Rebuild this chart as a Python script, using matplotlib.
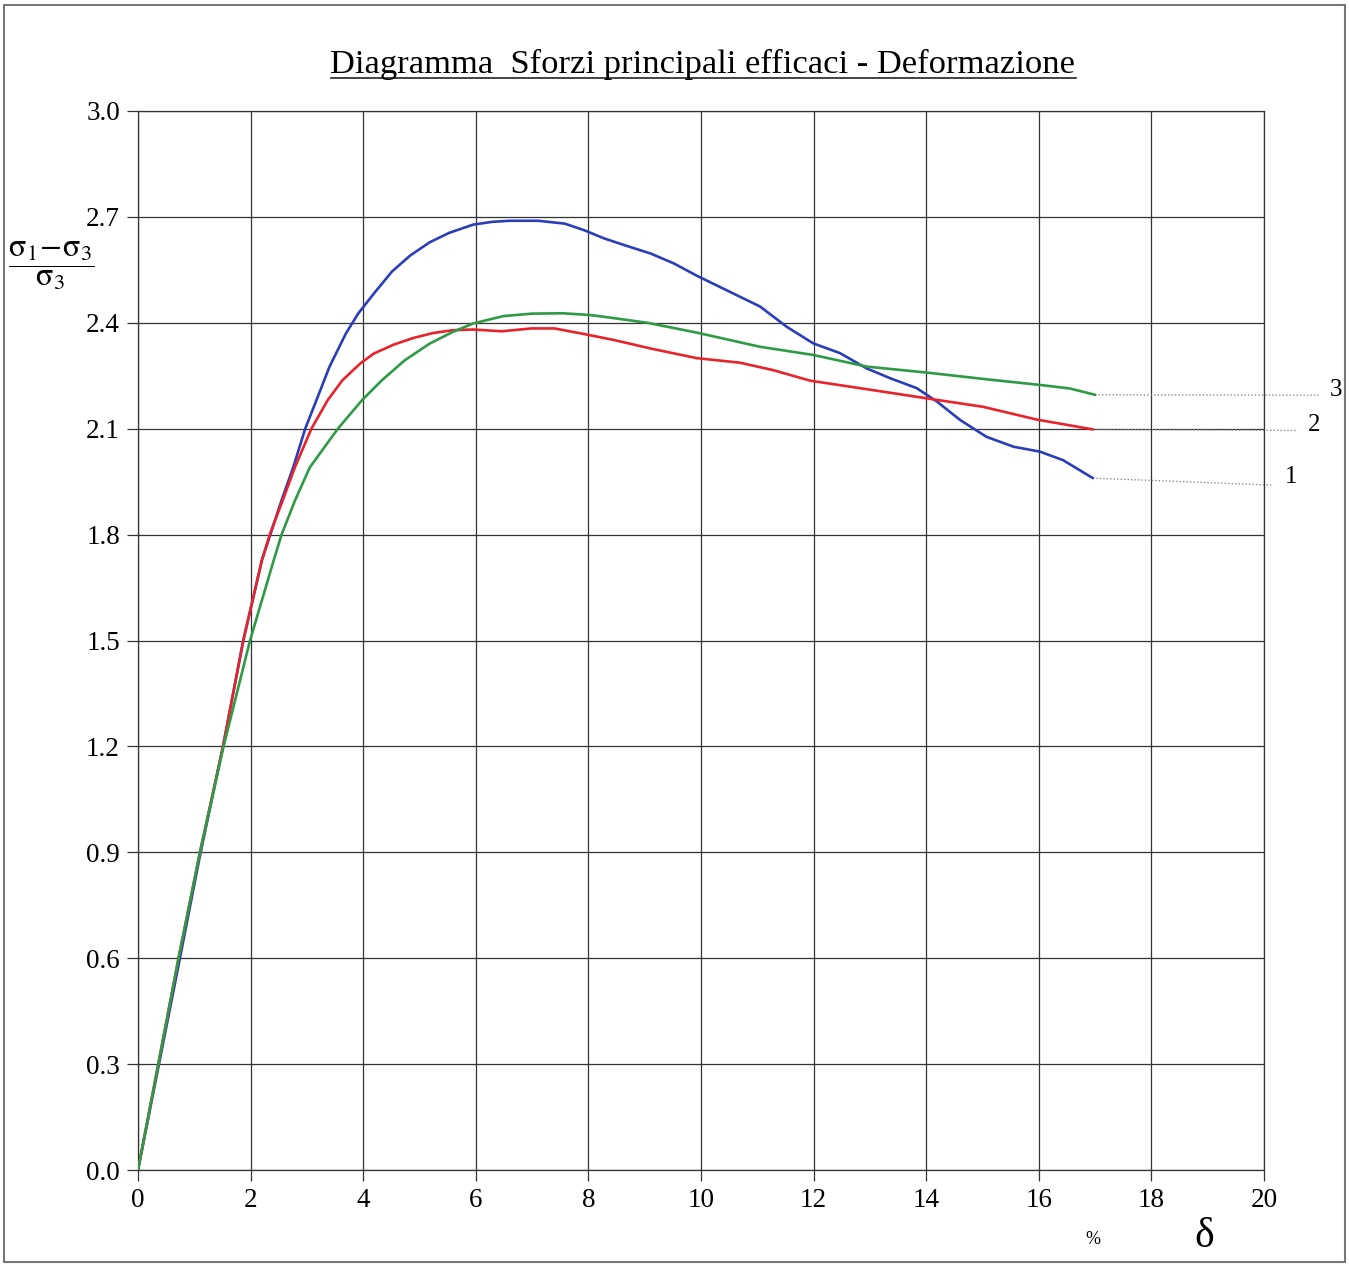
import matplotlib
matplotlib.use("Agg")
import matplotlib.pyplot as plt
from matplotlib.patches import Rectangle
from matplotlib.lines import Line2D

plt.rcParams['font.family'] = ['Liberation Serif', 'DejaVu Serif']
plt.rcParams['mathtext.fontset'] = 'stix'

# ---- data ----
x1 = [0, 0.36, 0.72, 1.1, 1.51, 1.87, 2.20, 2.35, 2.55, 2.76, 2.97, 3.17, 3.40, 3.69, 3.91,
      4.19, 4.51, 4.83, 5.18, 5.53, 5.95, 6.29, 6.6, 7.11, 7.58, 7.93, 8.28, 8.64, 9.11, 9.52,
      9.93, 11.05, 11.52, 11.99, 12.47, 12.94, 13.36, 13.83, 14.19, 14.6, 15.07, 15.55, 16.02,
      16.43, 16.96]
y1 = [0, 0.29, 0.58, 0.89, 1.2, 1.5, 1.727, 1.80, 1.897, 1.992, 2.10, 2.181, 2.275, 2.369, 2.426,
      2.483, 2.545, 2.59, 2.628, 2.655, 2.678, 2.686, 2.689, 2.689, 2.681, 2.662, 2.639, 2.620,
      2.596, 2.568, 2.533, 2.446, 2.389, 2.342, 2.314, 2.271, 2.243, 2.215, 2.177, 2.125, 2.077,
      2.049, 2.035, 2.011, 1.960]

x2 = [0, 0.36, 0.72, 1.1, 1.51, 1.87, 2.20, 2.34, 2.57, 2.79, 3.08, 3.37, 3.63, 3.95, 4.19,
      4.54, 4.89, 5.24, 5.59, 5.95, 6.46, 6.99, 7.4, 7.93, 8.46, 9.11, 9.92, 10.69, 11.28,
      11.94, 12.94, 14.01, 15.01, 15.96, 16.96]
y2 = [0, 0.3, 0.6, 0.9, 1.2, 1.5, 1.727, 1.80, 1.897, 1.992, 2.10, 2.181, 2.237, 2.285, 2.313,
      2.338, 2.357, 2.371, 2.379, 2.381, 2.376, 2.384, 2.384, 2.368, 2.351, 2.327, 2.300, 2.287,
      2.266, 2.236, 2.212, 2.186, 2.162, 2.126, 2.098]

x3 = [0, 0.36, 0.72, 1.1, 1.52, 1.99, 2.41, 2.55, 2.79, 3.05, 3.55, 3.98, 4.33, 4.74, 5.18,
      5.59, 5.95, 6.49, 7.0, 7.55, 8.03, 8.28, 9.05, 9.93, 11.05, 11.99, 12.94, 14.01, 15.07,
      16.02, 16.55, 17.0]
y3 = [0, 0.3, 0.6, 0.9, 1.2, 1.5, 1.727, 1.80, 1.897, 1.99, 2.10, 2.181, 2.237, 2.294, 2.341,
      2.374, 2.398, 2.419, 2.426, 2.427, 2.422, 2.417, 2.40, 2.372, 2.332, 2.309, 2.276, 2.259,
      2.240, 2.224, 2.214, 2.196]

curve_labels = ["1", "2", "3"]
leader_end_x = [20.16, 20.6, 21.0]
leader_end_y = [1.94, 2.095, 2.195]
label_x = [20.37, 20.78, 21.17]
label_y = [1.963, 2.11, 2.21]

x_ticks = [0, 2, 4, 6, 8, 10, 12, 14, 16, 18, 20]
y_ticks = [0.0, 0.3, 0.6, 0.9, 1.2, 1.5, 1.8, 2.1, 2.4, 2.7, 3.0]

title = "Diagramma  Sforzi principali efficaci - Deformazione"

# ---- figure ----
W, H = 1349, 1267
fig = plt.figure(figsize=(W / 100, H / 100), dpi=100)
ax = fig.add_axes([138 / W, 1 - 1170 / H, (1264 - 138) / W, (1170 - 111) / H])

colors = ['#2b3db8', '#e8232b', '#2f9a45']
for xs, ys, c in zip([x1, x2, x3], [y1, y2, y3], colors):
    ax.plot(xs, ys, color=c, lw=1.9, solid_joinstyle='round', solid_capstyle='round', zorder=3)

ends = [(x1[-1], y1[-1]), (x2[-1], y2[-1]), (x3[-1], y3[-1])]
for (ex, ey), lx, ly, tx, ty, lab in zip(ends, leader_end_x, leader_end_y, label_x, label_y, curve_labels):
    ax.plot([ex, lx], [ey, ly], ls=(0, (1, 1.5)), color='#8a8a8a', lw=1.0, clip_on=False, zorder=2)
    ax.text(tx, ty, lab, fontsize=18, ha='left', va='center', clip_on=False)

ax.set_xlim(0, 20)
ax.set_ylim(0, 3.0)
ax.set_xticks(x_ticks)
ax.set_xticklabels([str(v) for v in x_ticks])
ax.set_yticks(y_ticks)
ax.set_yticklabels([f"{v:.1f}" for v in y_ticks])
ax.grid(True, color='#333333', lw=0.9)
ax.set_axisbelow(True)
ax.tick_params(direction='out', length=8, width=0.9, color='#333333', labelsize=19.5, pad=5)
for s in ax.spines.values():
    s.set_color('#333333')
    s.set_linewidth(0.9)

# y label fraction
fig.text(51 / W, 1 - 266 / H,
         r'$\dfrac{\mathrm{σ}_1\!-\!\mathrm{σ}_3}{\mathrm{σ}_3}$', fontsize=23,
         ha='center', va='center')

# x-axis unit labels
fig.text(1093 / W, 1 - 1240 / H, '%', fontsize=13, ha='center', va='center')
fig.text(1204 / W, 1 - 1237 / H, 'δ', fontsize=30, ha='center', va='center')

# title with underline
t = fig.text(703 / W, 1 - 64 / H, title, fontsize=24.8, ha='center', va='center')
fig.canvas.draw()
bb = t.get_window_extent().transformed(fig.transFigure.inverted())
fig.add_artist(Line2D([bb.x0, bb.x1], [bb.y0 + 0.001, bb.y0 + 0.001],
                      transform=fig.transFigure, color='#222222', lw=1.2))

# outer frame
fig.add_artist(Rectangle((4 / W, 5 / H), (1345 - 4) / W, (1262 - 5) / H,
                         transform=fig.transFigure, fill=False, ec='#777777', lw=1.5))

fig.savefig('out.png', dpi=100)
